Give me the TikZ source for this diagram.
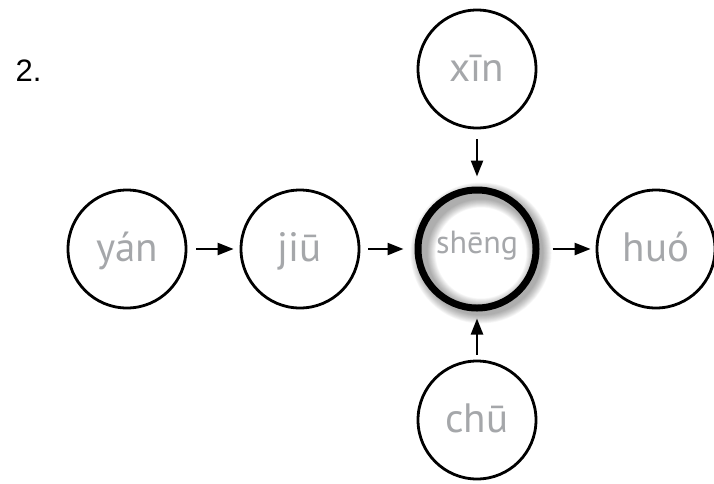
\documentclass[tikz,border=0pt]{standalone}
\usepackage{fontspec}
\setmainfont{PT Sans}
\newfontfamily\labelfont{Liberation Sans}
\usetikzlibrary{arrows.meta}
\definecolor{txtgray}{HTML}{A5A7AA}
\tikzset{
  word/.style={circle, draw=black, line width=2.8pt, minimum size=118pt, inner sep=0pt,
    text=txtgray, font=\fontsize{41}{48}\selectfont, text height=30pt, text depth=6pt},
  hub/.style={word, line width=7pt, font=\fontsize{32}{38}\selectfont, text height=16pt, text depth=8pt},
  link/.style={line width=2.4pt, -{Triangle[length=16pt,width=12pt]}},
}
\begin{document}
\begin{tikzpicture}[x=1pt,y=-1pt]
\useasboundingbox (0,0) rectangle (714,483);
\node[anchor=base west, font=\labelfont\fontsize{31}{36}\selectfont] (num) at (12,81) {2.};
% halo for the central node
\foreach \i in {1,...,12}{
  \draw[black, draw opacity=0.03, line width={7pt+1.5pt*\i}] (481,253) circle[radius=58];
}
\node[word] (yan) at (127,249) {yán};
\node[word] (jiu) at (300,249) {jiū};
\node[hub, fill=none] (sheng) at (477,249) {shēng};
\node[word] (huo) at (656,249) {huó};
\node[word] (xin) at (477,69) {xīn};
\node[word] (chu) at (477,420) {chū};
\draw[link, shorten <=9pt, shorten >=6pt] (yan) -- (jiu);
\draw[link, shorten <=8pt, shorten >=11pt] (jiu) -- (sheng);
\draw[link, shorten <=13pt, shorten >=5pt] (sheng) -- (huo);
\draw[link, shorten <=10pt, shorten >=10pt] (xin) -- (sheng);
\draw[link, shorten <=5pt, shorten >=7pt] (chu) -- (sheng);
\end{tikzpicture}
\end{document}
